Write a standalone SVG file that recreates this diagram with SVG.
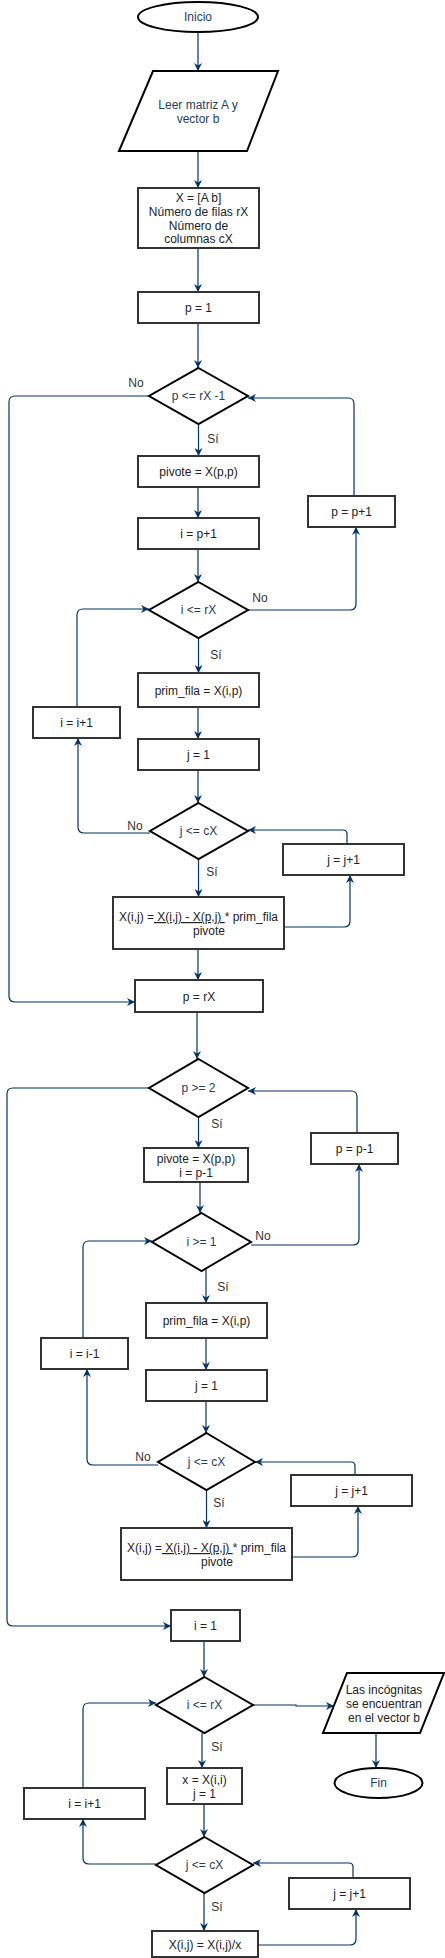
<svg xmlns="http://www.w3.org/2000/svg" width="445" height="1958" viewBox="0 0 445 1958">
<style>
.bg{fill:#ffffff}
.n{fill:#ffffff;stroke:#333333;stroke-width:2}
.d{fill:#ffffff;stroke:#000000;stroke-width:2;stroke-linejoin:miter}
.t{font-family:"Liberation Sans",Arial,sans-serif;font-size:12px;fill:#222222;text-anchor:middle}
.tb{font-family:"Liberation Sans",Arial,sans-serif;font-size:12px;fill:#1f3d5c;text-anchor:middle}
.l{font-family:"Liberation Sans",Arial,sans-serif;font-size:12px;fill:#333333;text-anchor:middle}
.c{fill:none;stroke:#003366;stroke-width:1.2;marker-end:url(#a)}
.u{text-decoration:underline}
</style>
<defs>
<marker id="a" markerUnits="userSpaceOnUse" viewBox="0 0 10 10" refX="10" refY="5" markerWidth="8" markerHeight="8" orient="auto">
<path d="M0,0 L10,5 L0,10 L3,5 z" fill="#003366"/>
</marker>
</defs>
<rect class="bg" x="0" y="0" width="445" height="1958"/>

<g id="connectors">
<path class="c" d="M198 32 V71"/>
<path class="c" d="M198 151 V188"/>
<path class="c" d="M198 248 V292"/>
<path class="c" d="M198 323 V368"/>
<path class="c" d="M198.5 424 V456"/>
<path class="c" d="M198 487 V518"/>
<path class="c" d="M198 549 V582"/>
<path class="c" d="M149 396 H15 Q9 396 9 402 V996 Q9 1002 15 1002 H135"/>
<path class="c" d="M248 610 H350 Q356 610 356 604 V527"/>
<path class="c" d="M354 496 V404 Q354 398 348 398 H248"/>
<path class="c" d="M198.5 638 V673"/>
<path class="c" d="M198 707 V739"/>
<path class="c" d="M198 770 V803"/>
<path class="c" d="M150 833 H84 Q78 833 78 827 V738"/>
<path class="c" d="M77 707 V615 Q77 609 83 609 H149"/>
<path class="c" d="M198.5 859 V897"/>
<path class="c" d="M284 927 H344 Q350 927 350 921 V875"/>
<path class="c" d="M347 844 V834 Q347 830 343 830 H248"/>
<path class="c" d="M198 949 V980"/>
<path class="c" d="M197 1012 V1059"/>
<path class="c" d="M149 1088 H13 Q7 1088 7 1094 V1620 Q7 1626 13 1626 H171"/>
<path class="c" d="M198.5 1117 V1148"/>
<path class="c" d="M357 1133 V1097 Q357 1091 351 1091 H248"/>
<path class="c" d="M200 1182 V1213"/>
<path class="c" d="M251 1245 H353 Q359 1245 359 1239 V1164"/>
<path class="c" d="M206 1268 V1303"/>
<path class="c" d="M206 1338 V1370"/>
<path class="c" d="M206 1401 V1433"/>
<path class="c" d="M158 1465 H93 Q87 1465 87 1459 V1369"/>
<path class="c" d="M83 1338 V1247 Q83 1241 89 1241 H152"/>
<path class="c" d="M206.5 1490 V1528"/>
<path class="c" d="M292 1557 H352 Q358 1557 358 1551 V1506"/>
<path class="c" d="M355 1475 V1466 Q355 1462 351 1462 H255"/>
<path class="c" d="M204 1641 V1677"/>
<path class="c" d="M253 1705 H296 V1706 H334"/>
<path class="c" d="M376 1733 V1768"/>
<path class="c" d="M202 1733 V1768"/>
<path class="c" d="M204 1804 V1837"/>
<path class="c" d="M156 1864 H89 Q83 1864 83 1858 V1819"/>
<path class="c" d="M83 1788 V1709 Q83 1703 89 1703 H156"/>
<path class="c" d="M204 1893 V1931"/>
<path class="c" d="M258 1945 H350 Q356 1945 356 1939 V1909"/>
<path class="c" d="M353 1878 V1867 Q353 1863 349 1863 H253"/>
<text class="l" x="136" y="387">No</text>
<text class="l" x="213" y="443">Sí</text>
<text class="l" x="260" y="602">No</text>
<text class="l" x="216" y="659">Sí</text>
<text class="l" x="135" y="830">No</text>
<text class="l" x="212" y="876">Sí</text>
<text class="l" x="217" y="1128">Sí</text>
<text class="l" x="263" y="1240">No</text>
<text class="l" x="223" y="1291">Sí</text>
<text class="l" x="143" y="1461">No</text>
<text class="l" x="219" y="1507">Sí</text>
<text class="l" x="217" y="1751">Sí</text>
<text class="l" x="217" y="1911">Sí</text>
</g>

<g id="inicio"><ellipse class="d" cx="198" cy="17" rx="60" ry="15"/><text class="tb" x="198" y="21">Inicio</text></g>
<g id="leer"><path class="d" d="M153 71 H278 L247 151 H119 Z" stroke-linejoin="round"/><text class="tb" x="198" y="109">Leer matriz A y</text><text class="tb" x="198" y="123">vector b</text></g>
<g id="init"><rect class="n" x="138" y="188" width="121" height="60"/><text class="t" x="198.5" y="202">X = [A b]</text><text class="t" x="198.5" y="216">Número de filas rX</text><text class="t" x="198.5" y="230">Número de</text><text class="t" x="198.5" y="243">columnas cX</text></g>
<g id="p1"><rect class="n" x="138" y="292" width="121" height="31"/><text class="t" x="198.5" y="312">p = 1</text></g>
<g id="d1"><path class="d" d="M198.5 368 L248 396 L198.5 424 L149 396 Z"/><text class="tb" x="198.5" y="400">p &lt;= rX -1</text></g>
<g id="pivote1"><rect class="n" x="138" y="456" width="121" height="31"/><text class="t" x="198.5" y="476">pivote = X(p,p)</text></g>
<g id="ip1"><rect class="n" x="138" y="518" width="121" height="31"/><text class="t" x="198.5" y="538">i = p+1</text></g>
<g id="d2"><path class="d" d="M198.5 582 L248 610 L198.5 638 L149 610 Z"/><text class="tb" x="198.5" y="614">i &lt;= rX</text></g>
<g id="pp1"><rect class="n" x="308" y="496" width="87" height="31"/><text class="t" x="351.5" y="516">p = p+1</text></g>
<g id="primfila1"><rect class="n" x="138" y="673" width="121" height="34"/><text class="t" x="198.5" y="695">prim_fila = X(i,p)</text></g>
<g id="ii1"><rect class="n" x="33" y="707" width="87" height="31"/><text class="t" x="76.5" y="727">i = i+1</text></g>
<g id="j1"><rect class="n" x="138" y="739" width="121" height="31"/><text class="t" x="198.5" y="759">j = 1</text></g>
<g id="d3"><path class="d" d="M198.5 803 L248 831 L198.5 859 L150 831 Z"/><text class="tb" x="198.5" y="835">j &lt;= cX</text></g>
<g id="xij1"><rect class="n" x="113" y="897" width="171" height="52"/><text class="t" x="198.5" y="921">X(i,j) =<tspan class="u"> X(i,j) - X(p,j) </tspan>* prim_fila</text><text class="t" x="209" y="935">pivote</text></g>
<g id="jj1"><rect class="n" x="283" y="844" width="121" height="31"/><text class="t" x="343.5" y="864">j = j+1</text></g>
<g id="prx"><rect class="n" x="135" y="980" width="128" height="32"/><text class="t" x="199" y="1001">p = rX</text></g>
<g id="d4"><path class="d" d="M198.5 1059 L248 1088 L198.5 1117 L149 1088 Z"/><text class="tb" x="198.5" y="1092">p &gt;= 2</text></g>
<g id="pm1"><rect class="n" x="311" y="1133" width="87" height="31"/><text class="t" x="354.5" y="1153">p = p-1</text></g>
<g id="pivote2"><rect class="n" x="144" y="1148" width="104" height="34"/><text class="t" x="196" y="1163">pivote = X(p,p)</text><text class="t" x="196" y="1177">i = p-1</text></g>
<g id="d5"><path class="d" d="M201.5 1213 L251 1242 L201.5 1271 L152 1242 Z"/><text class="tb" x="201.5" y="1246">i &gt;= 1</text></g>
<g id="primfila2"><rect class="n" x="146" y="1303" width="121" height="35"/><text class="t" x="206.5" y="1325">prim_fila = X(i,p)</text></g>
<g id="im1"><rect class="n" x="41" y="1338" width="87" height="31"/><text class="t" x="84.5" y="1358">i = i-1</text></g>
<g id="j2"><rect class="n" x="146" y="1370" width="121" height="31"/><text class="t" x="206.5" y="1390">j = 1</text></g>
<g id="d6"><path class="d" d="M206.5 1433 L255 1462 L206.5 1490 L158 1462 Z"/><text class="tb" x="206.5" y="1466">j &lt;= cX</text></g>
<g id="xij2"><rect class="n" x="121" y="1528" width="171" height="52"/><text class="t" x="206.5" y="1552">X(i,j) =<tspan class="u"> X(i,j) - X(p,j) </tspan>* prim_fila</text><text class="t" x="217" y="1566">pivote</text></g>
<g id="jj2"><rect class="n" x="291" y="1475" width="121" height="31"/><text class="t" x="351.5" y="1495">j = j+1</text></g>
<g id="i1"><rect class="n" x="171" y="1610" width="69" height="31"/><text class="t" x="205.5" y="1630">i = 1</text></g>
<g id="d7"><path class="d" d="M204.5 1677 L253 1705 L204.5 1733 L156 1705 Z"/><text class="tb" x="204.5" y="1709">i &lt;= rX</text></g>
<g id="salida"><path class="d" d="M347 1673 H444 L420 1733 H323 Z"/><text class="t" x="384" y="1694">Las incógnitas</text><text class="t" x="384" y="1708">se encuentran</text><text class="t" x="384" y="1722">en el vector b</text></g>
<g id="fin"><ellipse class="d" cx="378.5" cy="1783" rx="44" ry="15"/><text class="tb" x="378.5" y="1787">Fin</text></g>
<g id="xii"><rect class="n" x="167" y="1768" width="75" height="36"/><text class="t" x="204.5" y="1784">x = X(i,i)</text><text class="t" x="204.5" y="1798">j = 1</text></g>
<g id="ii3"><rect class="n" x="24" y="1788" width="121" height="31"/><text class="t" x="84.5" y="1808">i = i+1</text></g>
<g id="d8"><path class="d" d="M204.5 1837 L253 1865 L204.5 1893 L156 1865 Z"/><text class="tb" x="204.5" y="1869">j &lt;= cX</text></g>
<g id="jj3"><rect class="n" x="289" y="1878" width="121" height="31"/><text class="t" x="349.5" y="1898">j = j+1</text></g>
<g id="xijx"><rect class="n" x="152" y="1931" width="106" height="26"/><text class="t" x="205" y="1949">X(i,j) = X(i,j)/x</text></g>
</svg>
